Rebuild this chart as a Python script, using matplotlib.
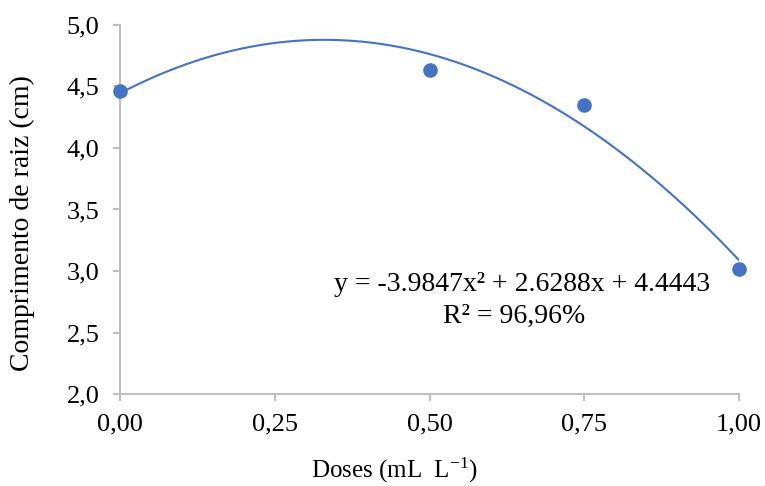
import matplotlib
matplotlib.use('Agg')
import matplotlib.pyplot as plt
import numpy as np

# data
doses = [0.0, 0.5, 0.75, 1.0]
comprimento = [4.46, 4.63, 4.35, 3.02]
# trendline coefficients as printed on the chart (a, b, c)
coef = [-3.9847, 2.6288, 4.4443]
r2_text = 'R² = 96,96%'
eq_text = 'y = -3.9847x² + 2.6288x + 4.4443'
xticks = [0.0, 0.25, 0.5, 0.75, 1.0]
yticks = [2.0, 2.5, 3.0, 3.5, 4.0, 4.5, 5.0]

plt.rcParams['font.family'] = ['Liberation Serif', 'DejaVu Serif']
plt.rcParams['mathtext.fontset'] = 'custom'
plt.rcParams['mathtext.rm'] = 'Liberation Serif'
plt.rcParams['mathtext.it'] = 'Liberation Serif:italic'

blue = '#4472C4'
gray = '#BFBFBF'

fig = plt.figure(figsize=(7.65, 4.86), dpi=100)
ax = fig.add_axes([0.157, 0.189, 0.809, 0.760])

xs = np.linspace(doses[0], doses[-1], 200)
ax.plot(xs, np.polyval(coef, xs), color=blue, lw=1.5, zorder=2)
ax.plot(doses, comprimento, 'o', color=blue, ms=9.5, zorder=3, clip_on=False)

ax.set_xlim(0, 1)
ax.set_ylim(2, 5)
ax.set_xticks(xticks)
ax.set_yticks(yticks)
ax.set_xticklabels(['{:.2f}'.format(v).replace('.', ',') for v in xticks])
ax.set_yticklabels(['{:.1f}'.format(v).replace('.', ',') for v in yticks])

for s in ['top', 'right']:
    ax.spines[s].set_visible(False)
for s in ['left', 'bottom']:
    ax.spines[s].set_color(gray)
    ax.spines[s].set_linewidth(1.5)
ax.tick_params(axis='both', colors=gray, labelcolor='black', labelsize=19,
               length=5, width=1.5)
ax.tick_params(axis='x', pad=9)
ax.tick_params(axis='y', pad=10)

ax.set_xlabel('Doses (mL  L$^{-1}$)', fontsize=18)
ax.xaxis.set_label_coords(0.443, -0.168)
ax.set_ylabel('Comprimento de raiz (cm)', fontsize=20)
ax.yaxis.set_label_coords(-0.137, 0.463)

ax.text(0.649, 2.89, eq_text, fontsize=20, ha='center', va='center')
ax.text(0.637, 2.63, r2_text, fontsize=20, ha='center', va='center')

fig.savefig('out.png', dpi=100)
